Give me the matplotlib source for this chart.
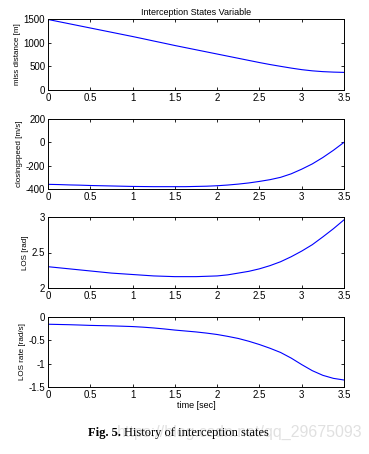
import matplotlib
matplotlib.use("Agg")
import matplotlib.pyplot as plt

# time samples (sec) and state values
t = [0, 0.125, 0.25, 0.375, 0.5, 0.625, 0.75, 0.875, 1.0, 1.125, 1.25, 1.375, 1.5, 1.625,
     1.75, 1.875, 2.0, 2.125, 2.25, 2.375, 2.5, 2.625, 2.75, 2.875, 3.0, 3.125, 3.25, 3.375, 3.5]
miss_dist = [1490, 1445, 1400, 1355, 1310, 1265, 1220, 1175, 1130, 1083, 1035, 988, 940, 895,
             850, 805, 760, 715, 670, 625, 580, 538, 500, 463, 430, 405, 388, 378, 372]
closing_speed = [-360, -362, -365, -367, -370, -372, -374, -376, -378, -379, -380, -380, -380, -380,
                 -378, -376, -372, -366, -358, -348, -335, -320, -300, -270, -230, -185, -130, -68, 0]
los = [2.30, 2.285, 2.27, 2.255, 2.24, 2.225, 2.21, 2.20, 2.19, 2.18, 2.17, 2.165, 2.16, 2.16,
       2.16, 2.165, 2.17, 2.185, 2.21, 2.235, 2.27, 2.315, 2.37, 2.44, 2.52, 2.61, 2.72, 2.835, 2.96]
los_rate = [-0.155, -0.16, -0.165, -0.172, -0.18, -0.185, -0.19, -0.197, -0.205, -0.218, -0.235,
            -0.256, -0.28, -0.30, -0.32, -0.345, -0.375, -0.415, -0.46, -0.52, -0.59, -0.67,
            -0.76, -0.88, -1.02, -1.15, -1.25, -1.315, -1.35]

ylabels = ["miss distance [m]", "closingspeed [m/s]", "LOS [rad]", "LOS rate [rad/s]"]
ylims = [(0, 1500), (-400, 200), (2, 3), (-1.5, 0)]
yticks = [[0, 500, 1000, 1500], [-400, -200, 0, 200], [2, 2.5, 3], [-1.5, -1, -0.5, 0]]
ytlabels = [["0", "500", "1000", "1500"], ["-400", "-200", "0", "200"],
            ["2", "2.5", "3"], ["-1.5", "-1", "-0.5", "0"]]
xticks = [0, 0.5, 1, 1.5, 2, 2.5, 3, 3.5]
xtlabels = ["0", "0.5", "1", "1.5", "2", "2.5", "3", "3.5"]

W, H = 369, 454
fig = plt.figure(figsize=(W / 100, H / 100), dpi=100)
fig.patch.set_facecolor("white")
plt.rcParams['font.family'] = ['Liberation Sans', 'DejaVu Sans']

# axes boxes in pixels: (top, bottom)
boxes = [(19, 90), (119, 189), (217, 288), (317, 387)]
left, right = 48, 344
series = [miss_dist, closing_speed, los, los_rate]

for i in range(4):
    top, bot = boxes[i]
    ax = fig.add_axes([left / W, 1 - bot / H, (right - left) / W, (bot - top) / H])
    ax.plot(t, series[i], color="#0000ff", lw=0.8)
    ax.set_xlim(0, 3.5)
    ax.set_ylim(*ylims[i])
    ax.set_xticks(xticks)
    ax.set_xticklabels(xtlabels)
    ax.set_yticks(yticks[i])
    ax.set_yticklabels(ytlabels[i])
    ax.tick_params(direction="in", top=True, right=True, length=2.5, width=0.6,
                   labelsize=7, pad=2)
    for s in ax.spines.values():
        s.set_linewidth(0.7)
    ax.set_ylabel(ylabels[i], fontsize=5.8, labelpad=2)
    if i == 0:
        ax.set_title("Interception States Variable", fontsize=6.5, pad=3)
    if i == 3:
        ax.set_xlabel("time [sec]", fontsize=6.5, labelpad=1)

# caption: bold "Fig. 5." followed by the plain title
renderer = fig.canvas.get_renderer()
fig_lbl = fig.text(88 / W, 1 - 433 / H, "Fig. 5.", fontsize=9, family="Liberation Serif",
                   fontweight="bold", ha="left", va="center")
bb = fig_lbl.get_window_extent(renderer)
fig.text((bb.x1 + 3) / W, 1 - 433 / H, "History of interception states", fontsize=9,
         family="Liberation Serif", ha="left", va="center")

# faint watermark, sized to span the same width as in the reference
wm = fig.text(362 / W, 1 - 432 / H, "https://blog.csdn.net/qq_29675093", fontsize=10,
              color="#d4d4d4", alpha=0.7, ha="right", va="center", zorder=0)
wbb = wm.get_window_extent(renderer)
wm.set_fontsize(10 * 245 / wbb.width)

fig.savefig("out.png", dpi=100, facecolor="white")
